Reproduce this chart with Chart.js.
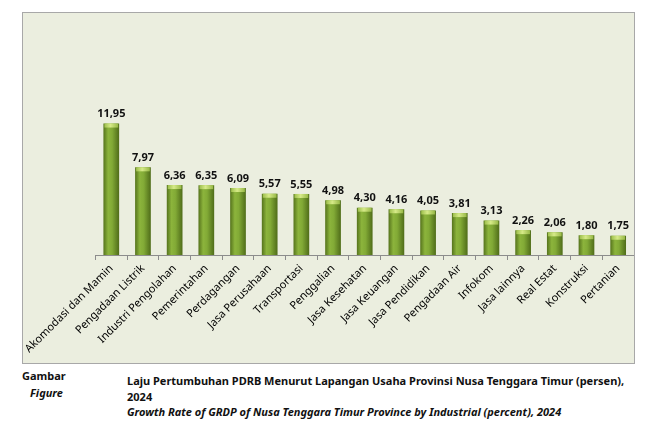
<!DOCTYPE html>
<html>
<head>
<meta charset="utf-8">
<script src="https://cdn.jsdelivr.net/npm/chart.js@4/dist/chart.umd.min.js"></script>
<style>
  body { margin: 0; background: #fff; width: 663px; height: 431px; position: relative; overflow: hidden; font-family: "Noto Sans", sans-serif; color: #111; }
  #panel { position: absolute; left: 22px; top: 12px; width: 613px; height: 352px; box-sizing: border-box; border: 1px solid #a8a8a8; background: #ebeedf; }
  #chart { position: absolute; left: 0; top: 0; }
  .cap { position: absolute; font-weight: bold; font-size: 11px; white-space: nowrap; }
</style>
</head>
<body>
<div id="panel"><canvas id="chart" width="611" height="350"></canvas></div>
<div class="cap" style="left:22px;top:368px;">Gambar</div>
<div class="cap" style="left:30px;top:385px;font-style:italic;">Figure</div>
<div class="cap" style="left:127px;top:373px;">Laju Pertumbuhan PDRB Menurut Lapangan Usaha Provinsi Nusa Tenggara Timur (persen),</div>
<div class="cap" style="left:127px;top:389px;">2024</div>
<div class="cap" style="left:127px;top:404px;font-style:italic;">Growth Rate of GRDP of Nusa Tenggara Timur Province by Industrial (percent), 2024</div>
<script>
// data
const sectors = ['Akomodasi dan Mamin', 'Pengadaan Listrik', 'Industri Pengolahan', 'Pemerintahan',
  'Perdagangan', 'Jasa Perusahaan', 'Transportasi', 'Penggalian', 'Jasa Kesehatan', 'Jasa Keuangan',
  'Jasa Pendidikan', 'Pengadaan Air', 'Infokom', 'Jasa lainnya', 'Real Estat', 'Konstruksi', 'Pertanian'];
const growth = [11.95, 7.97, 6.36, 6.35, 6.09, 5.57, 5.55, 4.98, 4.30, 4.16, 4.05, 3.81, 3.13, 2.26, 2.06, 1.80, 1.75];

const BAR_PCT = 0.62, CAT_PCT = 0.8;

Chart.defaults.font.family = '"Noto Sans", sans-serif';

// shaded green per bar, built from the x scale
function barFill(context) {
  const chart = context.chart;
  const xs = chart.scales.x;
  if (!chart.chartArea || !xs) return '#739c2c';
  const cx = xs.getPixelForValue(context.dataIndex);
  const w = (xs.width / sectors.length) * BAR_PCT * CAT_PCT;
  const g = chart.ctx.createLinearGradient(cx - w / 2, 0, cx + w / 2, 0);
  g.addColorStop(0, '#55731c');
  g.addColorStop(0.3, '#8cb43c');
  g.addColorStop(0.55, '#82aa36');
  g.addColorStop(1, '#4f6c19');
  return g;
}

// light top cap and value labels
const barTops = {
  id: 'barTops',
  afterDatasetsDraw(chart) {
    const ctx = chart.ctx;
    ctx.save();
    chart.getDatasetMeta(0).data.forEach((bar, i) => {
      const x0 = bar.x - bar.width / 2;
      const g = ctx.createLinearGradient(x0, 0, x0 + bar.width, 0);
      g.addColorStop(0, '#94b842');
      g.addColorStop(0.45, '#d6ea88');
      g.addColorStop(1, '#8fb23e');
      ctx.fillStyle = g;
      ctx.fillRect(x0 + 1, bar.y, bar.width - 2, 4);
      ctx.fillStyle = '#111';
      ctx.font = 'bold 11px "Noto Sans"';
      ctx.textAlign = 'center';
      ctx.textBaseline = 'bottom';
      ctx.fillText(growth[i].toFixed(2).replace('.', ','), bar.x, bar.y - 4);
    });
    ctx.restore();
  }
};

new Chart(document.getElementById('chart'), {
  type: 'bar',
  data: {
    labels: sectors,
    datasets: [{
      data: growth,
      backgroundColor: barFill,
      borderWidth: 0,
      barPercentage: BAR_PCT,
      categoryPercentage: CAT_PCT
    }]
  },
  options: {
    responsive: false,
    animation: false,
    layout: { padding: { left: 71, top: 88, right: 0, bottom: 0 } },
    plugins: { legend: { display: false }, tooltip: { enabled: false } },
    scales: {
      x: {
        afterFit(scale) { scale.height = 108; },
        grid: { offset: true, drawOnChartArea: false, drawTicks: true, tickLength: 5, color: '#8c8c8c' },
        border: { color: '#8c8c8c' },
        ticks: { maxRotation: 45, minRotation: 45, autoSkip: false, color: '#000', font: { size: 11 }, padding: 2 }
      },
      y: { display: false, min: 0, max: 14 }
    }
  },
  plugins: [barTops]
});
</script>
</body>
</html>
